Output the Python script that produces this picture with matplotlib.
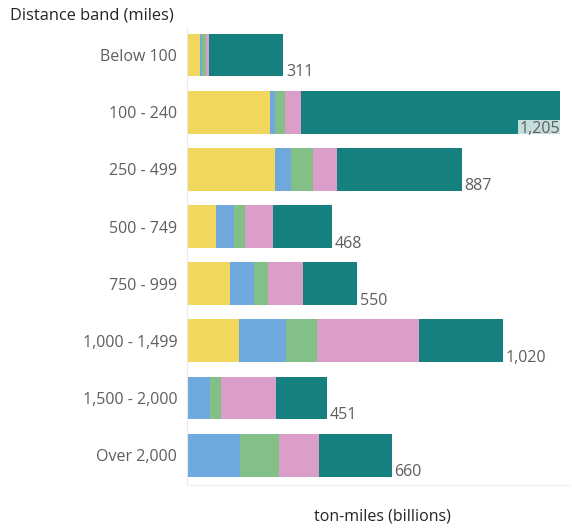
import matplotlib
matplotlib.use("Agg")
import matplotlib.pyplot as plt

plt.rcParams["font.family"] = ["Open Sans", "DejaVu Sans"]

BANDS = ["Below 100", "100 - 240", "250 - 499", "500 - 749", "750 - 999",
         "1,000 - 1,499", "1,500 - 2,000", "Over 2,000"]

# stacked segments, ton-miles (billions)
seg_yellow = [42, 268, 283, 95, 139, 167, 3, 0]
seg_blue = [6, 15, 53, 58, 76, 151, 72, 172]
seg_green = [13, 34, 72, 33, 45, 100, 35, 125]
seg_pink = [10, 52, 77, 92, 114, 332, 178, 129]
seg_teal = [240, 836, 402, 190, 176, 270, 163, 234]
TOTALS = [311, 1205, 887, 468, 550, 1020, 451, 660]

SEGMENTS = [seg_yellow, seg_blue, seg_green, seg_pink, seg_teal]
COLORS = ["#F1D75E", "#6FA8DC", "#82C087", "#DB9EC8", "#168080"]

TEXT_COL = "#605E5C"

fig = plt.figure(figsize=(5.72, 5.30), dpi=100)
ax = fig.add_axes([0.327, 0.085, 0.670, 0.862])

ypos = list(range(len(BANDS)))
left = [0] * len(BANDS)
for vals, col in zip(SEGMENTS, COLORS):
    ax.barh(ypos, vals, left=left, height=0.75, color=col, edgecolor="none")
    left = [a + b for a, b in zip(left, vals)]

ax.set_xlim(0, 1237)
ax.set_ylim(7.52, -0.47)

for i, tot in enumerate(TOTALS):
    txt = f"{tot:,}"
    if tot > 1150:
        ax.text(tot - 2, i + 0.44, txt, ha="right", va="bottom", fontsize=11.5,
                color=TEXT_COL,
                bbox=dict(facecolor="white", alpha=0.75, edgecolor="none", pad=1))
    else:
        ax.text(tot + 8, i + 0.44, txt, ha="left", va="bottom", fontsize=11.5,
                color=TEXT_COL,
                bbox=dict(facecolor="white", alpha=0.75, edgecolor="none", pad=1))

ax.set_yticks(ypos)
ax.set_yticklabels(BANDS, fontsize=11.5, color=TEXT_COL)
ax.set_xticks([])
ax.tick_params(axis="y", length=0, pad=7)

for s in ["top", "right"]:
    ax.spines[s].set_visible(False)
ax.spines["left"].set_color("#EAEAEA")
ax.spines["bottom"].set_color("#F0F0F0")

fig.text(0.017, 0.97, "Distance band (miles)", fontsize=11.8, color="#252423",
         ha="left", va="center")
fig.text(0.668, 0.025, "ton-miles (billions)", fontsize=11.5, color="#252423",
         ha="center", va="center")

fig.savefig("out.png", dpi=100)
